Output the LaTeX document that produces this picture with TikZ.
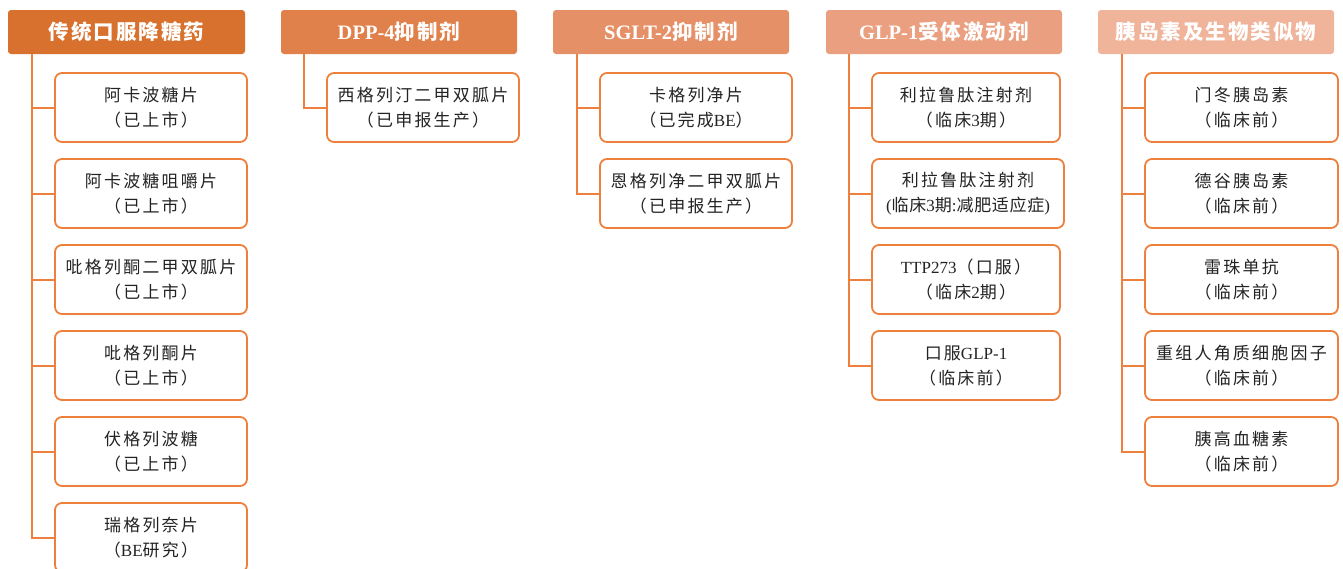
\documentclass[tikz,border=0pt]{standalone}
\usepackage{fontspec}
\setmainfont{Liberation Serif}
\newfontfamily\cjk[LetterSpace=13]{Noto Sans CJK SC}
\newfontfamily\cjkn[LetterSpace=4]{Noto Sans CJK SC}
\newfontfamily\cjkh[LetterSpace=10]{Noto Sans CJK SC}
\newcommand\zh[1]{{\cjk #1}}
\newcommand\zhn[1]{{\cjkn #1}}
\newcommand\zhh[1]{{\cjkh #1}}
\definecolor{hA}{RGB}{216,113,46}
\definecolor{hB}{RGB}{224,128,74}
\definecolor{hC}{RGB}{229,144,102}
\definecolor{hD}{RGB}{234,160,128}
\definecolor{hE}{RGB}{240,180,155}
\definecolor{lineor}{RGB}{237,128,60}
\definecolor{txt}{RGB}{35,35,35}
\tikzset{
  hdr/.style={fill=#1, draw=none, rounded corners=3pt, minimum height=44pt, text=white,
    font=\fontsize{20.5}{24}\selectfont\bfseries, inner sep=0pt, anchor=center},
  item/.style={draw=lineor, line width=1.8pt, fill=white, rounded corners=7pt,
    minimum width=#1, minimum height=69pt, align=center, text=txt, inner sep=0pt,
    font=\fontsize{17}{25}\selectfont, anchor=center},
  item/.default=192pt,
  conn/.style={draw=lineor, line width=2pt}
}
\begin{document}
\begin{tikzpicture}[x=1pt,y=-1pt]
\useasboundingbox (0,0) rectangle (1343,568);
% headers
\node[hdr=hA, minimum width=237pt] (h1) at (126.5,32) {\zhh{传统口服降糖药}};
\node[hdr=hB, minimum width=236pt] (h2) at (399,32) {DPP-4\zhh{抑制剂}};
\node[hdr=hC, minimum width=236pt] (h3) at (671,32) {SGLT-2\zhh{抑制剂}};
\node[hdr=hD, minimum width=236pt] (h4) at (944,32) {GLP-1\zhh{受体激动剂}};
\node[hdr=hE, minimum width=236pt] (h5) at (1216,32) {\zhh{胰岛素及生物类似物}};
% connectors (drawn first, boxes on top)
\coordinate (v1) at ([xshift=24pt]h1.south west);
\coordinate (v2) at ([xshift=23pt]h2.south west);
\coordinate (v3) at ([xshift=24pt]h3.south west);
\coordinate (v4) at ([xshift=23pt]h4.south west);
\coordinate (v5) at ([xshift=24pt]h5.south west);
% column 1
\node[item] (a1) at (151,107.5) {\zh{阿卡波糖片}\\\zh{（已上市）}};
\node[item] (a2) at (151,193.5) {\zh{阿卡波糖咀嚼片}\\\zh{（已上市）}};
\node[item] (a3) at (151,279.5) {\zh{吡格列酮二甲双胍片}\\\zh{（已上市）}};
\node[item] (a4) at (151,365.5) {\zh{吡格列酮片}\\\zh{（已上市）}};
\node[item] (a5) at (151,451.5) {\zh{伏格列波糖}\\\zh{（已上市）}};
\node[item] (a6) at (151,537.5) {\zh{瑞格列奈片}\\\zh{（}BE\zh{研究）}};
% column 2
\node[item] (b1) at (423,107.5) {\zh{西格列汀二甲双胍片}\\\zh{（已申报生产）}};
% column 3
\node[item] (c1) at (696,107.5) {\zh{卡格列净片}\\\zh{（已完成}BE\zh{）}};
\node[item] (c2) at (696,193.5) {\zh{恩格列净二甲双胍片}\\\zh{（已申报生产）}};
% column 4
\node[item=188pt] (d1) at (966,107.5) {\zh{利拉鲁肽注射剂}\\\zh{（临床}3\zh{期）}};
\node[item=192pt] (d2) at (968,193.5) {\zh{利拉鲁肽注射剂}\\(\zhn{临床}3\zhn{期}:\zhn{减肥适应症})};
\node[item=188pt] (d3) at (966,279.5) {TTP273\zh{（口服）}\\\zh{（临床}2\zh{期）}};
\node[item=188pt] (d4) at (966,365.5) {\zh{口服}GLP-1\\\zh{（临床前）}};
% column 5
\node[item=193pt] (e1) at (1241.5,107.5) {\zh{门冬胰岛素}\\\zh{（临床前）}};
\node[item=193pt] (e2) at (1241.5,193.5) {\zh{德谷胰岛素}\\\zh{（临床前）}};
\node[item=193pt] (e3) at (1241.5,279.5) {\zh{雷珠单抗}\\\zh{（临床前）}};
\node[item=193pt] (e4) at (1241.5,365.5) {\zh{重组人角质细胞因子}\\\zh{（临床前）}};
\node[item=193pt] (e5) at (1241.5,451.5) {\zh{胰高血糖素}\\\zh{（临床前）}};
% connectors
\foreach \n in {a1,a2,a3,a4,a5,a6}
  \draw[conn] (v1) |- (\n.west);
\draw[conn] (v2) |- (b1.west);
\foreach \n in {c1,c2}
  \draw[conn] (v3) |- (\n.west);
\foreach \n in {d1,d2,d3,d4}
  \draw[conn] (v4) |- (\n.west);
\foreach \n in {e1,e2,e3,e4,e5}
  \draw[conn] (v5) |- (\n.west);
\end{tikzpicture}
\end{document}
